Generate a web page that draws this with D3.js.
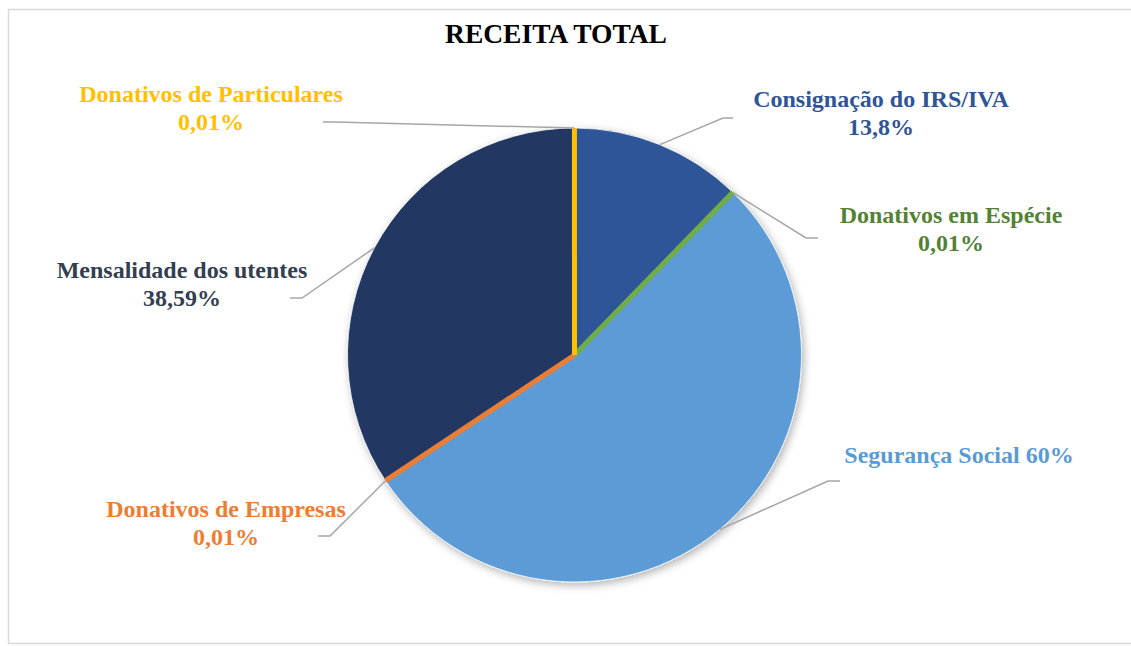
<!DOCTYPE html>
<html>
<head>
<meta charset="utf-8">
<script src="https://cdn.jsdelivr.net/npm/d3@7"></script>
<style>
  html, body { margin: 0; padding: 0; background: #fff; }
  svg { display: block; }
</style>
</head>
<body>
<svg id="chart" width="1131" height="646"></svg>
<script>
// Revenue sources (percent shares as published)
const categories = [
  "Consignação do IRS/IVA",
  "Donativos em Espécie",
  "Segurança Social",
  "Donativos de Empresas",
  "Mensalidade dos utentes",
  "Donativos de Particulares"
];
const values = [13.8, 0.01, 60, 0.01, 38.59, 0.01];
const valueLabels = ["13,8%", "0,01%", "60%", "0,01%", "38,59%", "0,01%"];
const sliceColors = ["#2F5597", "#70AD47", "#5B9BD5", "#ED7D31", "#203864", "#FFC000"];
const labelColors = ["#2F5597", "#548235", "#5B9BD5", "#ED7D31", "#333F50", "#FFC000"];

const FONT = "'Times New Roman', 'Liberation Serif', Tinos, 'DejaVu Serif', serif";

// Label layout: text anchor point, whether value goes on its own line, elbow of leader
const labelLayout = [
  { x: 881, y: 107, twoLines: true,  elbow: [723, 118], end: [733, 118] },
  { x: 951, y: 223, twoLines: true,  elbow: [806, 238], end: [818, 238] },
  { x: 959, y: 463, twoLines: false, elbow: [828, 481], end: [840, 481] },
  { x: 226, y: 517, twoLines: true,  elbow: [330, 536], end: [318, 536] },
  { x: 182, y: 278, twoLines: true,  elbow: [302, 298], end: [290, 298] },
  { x: 211, y: 102, twoLines: true,  elbow: [335, 122], end: [323, 122] }
];

const cx = 574.5, cy = 355, R = 227;
const svg = d3.select("#chart");

// Chart frame
svg.append("rect")
  .attr("x", 8.5).attr("y", 9.5)
  .attr("width", 1135).attr("height", 634)
  .attr("fill", "#fff").attr("stroke", "#D9D9D9").attr("stroke-width", 1.5);

// Title
svg.append("text")
  .attr("x", 556).attr("y", 43)
  .attr("text-anchor", "middle")
  .attr("font-family", FONT)
  .attr("font-weight", "bold")
  .attr("font-size", 27.5)
  .attr("fill", "#000")
  .text("RECEITA TOTAL");

// Soft shadow under the pie
const defs = svg.append("defs");
const f = defs.append("filter").attr("id", "pieShadow")
  .attr("x", "-20%").attr("y", "-20%").attr("width", "140%").attr("height", "140%");
f.append("feDropShadow")
  .attr("dx", 2).attr("dy", 3).attr("stdDeviation", 4)
  .attr("flood-color", "#000").attr("flood-opacity", 0.3);

const data = categories.map((c, i) => ({ name: c, value: values[i], i }));
const pie = d3.pie().sort(null).value(d => d.value);
const arcs = pie(data);
const arc = d3.arc().innerRadius(0).outerRadius(R);

const g = svg.append("g").attr("transform", `translate(${cx},${cy})`);
const pieG = g.append("g").attr("filter", "url(#pieShadow)");

pieG.selectAll("path.slice")
  .data(arcs)
  .join("path")
  .attr("class", "slice")
  .attr("d", arc)
  .attr("fill", d => sliceColors[d.data.i])
  .attr("stroke", "#fff")
  .attr("stroke-width", 0.75);

// Very small slices are shown as coloured spokes so they remain visible
const tiny = arcs.filter(d => (d.endAngle - d.startAngle) < 0.01);
pieG.selectAll("line.spoke")
  .data(tiny)
  .join("line")
  .attr("class", "spoke")
  .attr("x1", 0).attr("y1", 0)
  .attr("x2", d => d3.pointRadial((d.startAngle + d.endAngle) / 2, R)[0])
  .attr("y2", d => d3.pointRadial((d.startAngle + d.endAngle) / 2, R)[1])
  .attr("stroke", d => sliceColors[d.data.i])
  .attr("stroke-width", 5);

// Leader lines
svg.selectAll("polyline.leader")
  .data(arcs)
  .join("polyline")
  .attr("class", "leader")
  .attr("fill", "none")
  .attr("stroke", "#A6A6A6")
  .attr("stroke-width", 1.5)
  .attr("points", d => {
    const a = (d.startAngle + d.endAngle) / 2;
    const p = d3.pointRadial(a, R);
    const L = labelLayout[d.data.i];
    return [[cx + p[0], cy + p[1]], L.elbow, L.end].map(q => q.join(",")).join(" ");
  });

// Labels
const lab = svg.selectAll("text.label")
  .data(arcs)
  .join("text")
  .attr("class", "label")
  .attr("text-anchor", "middle")
  .attr("font-family", FONT)
  .attr("font-weight", "bold")
  .attr("font-size", 24)
  .attr("fill", d => labelColors[d.data.i]);

lab.each(function(d) {
  const L = labelLayout[d.data.i];
  const t = d3.select(this);
  if (L.twoLines) {
    t.append("tspan").attr("x", L.x).attr("y", L.y).text(d.data.name);
    t.append("tspan").attr("x", L.x).attr("y", L.y + 27.5).text(valueLabels[d.data.i]);
  } else {
    t.append("tspan").attr("x", L.x).attr("y", L.y).text(d.data.name + " " + valueLabels[d.data.i]);
  }
});
</script>
</body>
</html>
